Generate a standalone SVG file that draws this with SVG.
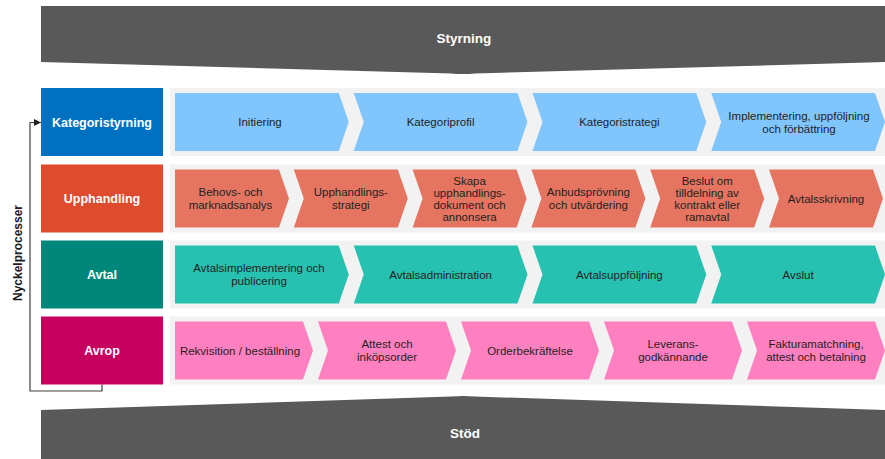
<svg xmlns="http://www.w3.org/2000/svg" width="885" height="459" viewBox="0 0 885 459">
<defs>
<style>
.t{font-family:"Liberation Sans",Arial,sans-serif;font-size:11.5px;fill:#1f1f1f;text-anchor:middle}
.lbl{font-family:"Liberation Sans",Arial,sans-serif;font-size:12.5px;font-weight:bold;fill:#ffffff;text-anchor:middle}
.ban{font-family:"Liberation Sans",Arial,sans-serif;font-size:13.5px;font-weight:bold;fill:#ffffff;text-anchor:middle}
.band{fill:#f2f2f2}
.c1{fill:#80c6fd}.b1{fill:#0070c0}
.c2{fill:#e57561}.b2{fill:#de4b2d}
.c3{fill:#27c1b1}.b3{fill:#00877a}
.c4{fill:#ff80c0}.b4{fill:#c5005e}
.conn{fill:none;stroke:#404040;stroke-width:1.2}
</style>
<marker id="ah" markerWidth="8" markerHeight="8" refX="7" refY="4" orient="auto" markerUnits="userSpaceOnUse">
<path d="M0,0.6 L7,4 L0,7.4 Z" fill="#202020"/>
</marker>
</defs>

<g id="styrning">
<path d="M41,6 L885,6 L885,62 L475,73.5 Q463,74.5 451,73.5 L41,62 Z" fill="#595959"/>
<text class="ban" x="464" y="43">Styrning</text>
</g>

<g id="stod">
<path d="M41,410 L451,396.5 Q463,395.5 475,396.5 L885,410 L885,459 L41,459 Z" fill="#595959"/>
<text class="ban" x="465" y="438">Stöd</text>
</g>

<g id="connectors">
<path class="conn" d="M102,384.5 L102,391 L30,391 L30,122.5 L41,122.5" marker-end="url(#ah)"/>
</g>
<text x="0" y="0" transform="translate(21.5,253) rotate(-90)" style="font-family:'Liberation Sans',Arial,sans-serif;font-size:12px;font-weight:bold;fill:#1a1a1a;text-anchor:middle">Nyckelprocesser</text>

<g id="row-kategoristyrning">
<rect class="b1" x="41" y="88" width="122" height="68"/>
<text class="lbl" x="102" y="126.5">Kategoristyrning</text>
<rect class="band" x="170" y="88" width="715" height="68"/>
<g id="k1"><path class="c1" d="M175,93 L338.75,93 L348.75,122 L338.75,151 L175,151 Z"/><text class="t" x="260" y="126">Initiering</text></g>
<g id="k2"><path class="c1" d="M353.75,93 L517.5,93 L527.5,122 L517.5,151 L353.75,151 L363.75,122 Z"/><text class="t" x="440.6" y="126">Kategoriprofil</text></g>
<g id="k3"><path class="c1" d="M532.5,93 L696.25,93 L706.25,122 L696.25,151 L532.5,151 L542.5,122 Z"/><text class="t" x="619.4" y="126">Kategoristrategi</text></g>
<g id="k4"><path class="c1" d="M711.25,93 L875,93 L885,122 L875,151 L711.25,151 L721.25,122 Z"/><text class="t" x="799" y="120">Implementering, uppföljning</text><text class="t" x="799" y="132.5">och förbättring</text></g>
</g>

<g id="row-upphandling">
<rect class="b2" x="41" y="164.5" width="122" height="68"/>
<text class="lbl" x="102" y="203">Upphandling</text>
<rect class="band" x="170" y="164.5" width="715" height="68"/>
<g id="u1"><path class="c2" d="M175,169.5 L279,169.5 L289,198.5 L279,227.5 L175,227.5 Z"/><text class="t" x="230.5" y="196.3">Behovs- och</text><text class="t" x="230.5" y="208.8">marknadsanalys</text></g>
<g id="u2"><path class="c2" d="M293.8,169.5 L397.8,169.5 L407.8,198.5 L397.8,227.5 L293.8,227.5 L303.8,198.5 Z"/><text class="t" x="350.8" y="196.3">Upphandlings-</text><text class="t" x="350.8" y="208.8">strategi</text></g>
<g id="u3"><path class="c2" d="M412.6,169.5 L516.6,169.5 L526.6,198.5 L516.6,227.5 L412.6,227.5 L422.6,198.5 Z"/><text class="t" x="469.6" y="184.5">Skapa</text><text class="t" x="469.6" y="196.5">upphandlings-</text><text class="t" x="469.6" y="208.5">dokument och</text><text class="t" x="469.6" y="220.5">annonsera</text></g>
<g id="u4"><path class="c2" d="M531.4,169.5 L635.4,169.5 L645.4,198.5 L635.4,227.5 L531.4,227.5 L541.4,198.5 Z"/><text class="t" x="588.4" y="196.3">Anbudsprövning</text><text class="t" x="588.4" y="208.8">och utvärdering</text></g>
<g id="u5"><path class="c2" d="M650.2,169.5 L754.2,169.5 L764.2,198.5 L754.2,227.5 L650.2,227.5 L660.2,198.5 Z"/><text class="t" x="707.2" y="184.5">Beslut om</text><text class="t" x="707.2" y="196.5">tilldelning av</text><text class="t" x="707.2" y="208.5">kontrakt eller</text><text class="t" x="707.2" y="220.5">ramavtal</text></g>
<g id="u6"><path class="c2" d="M769,169.5 L873,169.5 L883,198.5 L873,227.5 L769,227.5 L779,198.5 Z"/><text class="t" x="826" y="202.5">Avtalsskrivning</text></g>
</g>

<g id="row-avtal">
<rect class="b3" x="41" y="240.5" width="122" height="68"/>
<text class="lbl" x="102" y="279">Avtal</text>
<rect class="band" x="170" y="240.5" width="715" height="68"/>
<g id="a1"><path class="c3" d="M175,245.5 L338.75,245.5 L348.75,274.5 L338.75,303.5 L175,303.5 Z"/><text class="t" x="259" y="272.3">Avtalsimplementering och</text><text class="t" x="259" y="284.8">publicering</text></g>
<g id="a2"><path class="c3" d="M353.75,245.5 L517.5,245.5 L527.5,274.5 L517.5,303.5 L353.75,303.5 L363.75,274.5 Z"/><text class="t" x="440.6" y="278.5">Avtalsadministration</text></g>
<g id="a3"><path class="c3" d="M532.5,245.5 L696.25,245.5 L706.25,274.5 L696.25,303.5 L532.5,303.5 L542.5,274.5 Z"/><text class="t" x="619.4" y="278.5">Avtalsuppföljning</text></g>
<g id="a4"><path class="c3" d="M711.25,245.5 L875,245.5 L885,274.5 L875,303.5 L711.25,303.5 L721.25,274.5 Z"/><text class="t" x="798.1" y="278.5">Avslut</text></g>
</g>

<g id="row-avrop">
<rect class="b4" x="41" y="316.5" width="122" height="68"/>
<text class="lbl" x="102" y="355">Avrop</text>
<rect class="band" x="170" y="316.5" width="715" height="68"/>
<g id="r1"><path class="c4" d="M175,321.5 L303,321.5 L313,350.5 L303,379.5 L175,379.5 Z"/><text class="t" x="240" y="354.5">Rekvisition / beställning</text></g>
<g id="r2"><path class="c4" d="M318,321.5 L446,321.5 L456,350.5 L446,379.5 L318,379.5 L328,350.5 Z"/><text class="t" x="387" y="348.3">Attest och</text><text class="t" x="387" y="360.8">inköpsorder</text></g>
<g id="r3"><path class="c4" d="M461,321.5 L589,321.5 L599,350.5 L589,379.5 L461,379.5 L471,350.5 Z"/><text class="t" x="530" y="354.5">Orderbekräftelse</text></g>
<g id="r4"><path class="c4" d="M604,321.5 L732,321.5 L742,350.5 L732,379.5 L604,379.5 L614,350.5 Z"/><text class="t" x="673" y="348.3">Leverans-</text><text class="t" x="673" y="360.8">godkännande</text></g>
<g id="r5"><path class="c4" d="M747,321.5 L875,321.5 L885,350.5 L875,379.5 L747,379.5 L757,350.5 Z"/><text class="t" x="816" y="348.3">Fakturamatchning,</text><text class="t" x="816" y="360.8">attest och betalning</text></g>
</g>
</svg>
